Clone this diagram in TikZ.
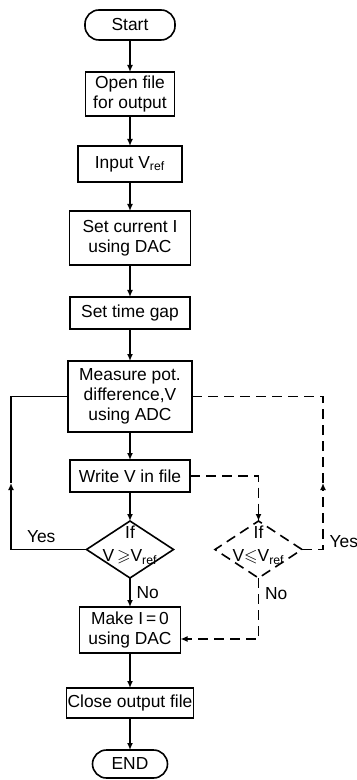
\documentclass[tikz,border=0pt]{standalone}
\usepackage{fontspec}
\setmainfont{Liberation Sans}
\usepackage{amssymb}
\usetikzlibrary{positioning,shapes.geometric,arrows.meta}

\begin{document}
\begin{tikzpicture}[x=0.5pt,y=-0.5pt,thick,>={Latex[length=3.5pt,width=3pt]},
 every node/.style={font=\fontsize{8.7}{10}\selectfont,outer sep=0pt},
 terminal/.style={draw,rectangle,rounded corners=7pt,inner sep=0pt,align=center},
 procbox/.style={draw,rectangle,inner sep=0.5pt,align=center},
 decision/.style={draw,diamond,inner sep=0pt,minimum width=43.5pt,minimum height=28.5pt},
 dectext/.style={align=center,yshift=2pt,font=\fontsize{8.7}{11.5}\selectfont},
 dline/.style={dashed,dash pattern=on 5pt off 3pt}]
 \useasboundingbox (0,0) rectangle (357,780);

 \node[terminal,minimum width=45pt,minimum height=15pt] (start) at (130,25) {Start};
 \node[procbox,minimum width=44.5pt,minimum height=22pt,below=16pt of start] (openf) {Open file\\for output};
 \node[procbox,minimum width=52pt,minimum height=18pt,below=15pt of openf] (inputv) {Input V\textsubscript{ref}};
 \node[procbox,minimum width=60.5pt,minimum height=27pt,below=14.5pt of inputv] (setcur) {Set current I\\using DAC};
 \node[procbox,minimum width=60pt,minimum height=16pt,below=16pt of setcur] (settime) {Set time gap};
 \node[procbox,minimum width=62pt,minimum height=35.5pt,below=16pt of settime] (measure) {Measure pot.\\difference,V\\using ADC};
 \node[procbox,minimum width=60pt,minimum height=16pt,below=14pt of measure] (writev) {Write V in file};

 % the two tests
 \node[decision,below=14.5pt of writev] (ifge) {};
 \node[dectext] (ifgetxt) at (ifge) {If\\V\,$\geqslant$V\textsubscript{ref}};
 \node[decision,dline,right=20.75pt of ifge] (ifle) {};
 \node[dectext] (ifletxt) at (ifle) {If\\V$\leqslant$V\textsubscript{ref}};

 \node[procbox,minimum width=50.5pt,minimum height=23pt,below=14.5pt of ifge] (makezero) {Make I\,=\,0\\using DAC};
 \node[procbox,minimum width=59.5pt,minimum height=15pt,below=17.5pt of makezero] (closef) {Close output file};
 \node[terminal,minimum width=37.5pt,minimum height=14pt,below=16pt of closef] (finish) {END};

 \coordinate (lmid) at (11,483);
 \coordinate (rmid) at (323,483);

 % main line
 \draw[->] (start) -- (openf);
 \draw[->] (openf) -- (inputv);
 \draw[->] (inputv) -- (setcur);
 \draw[->] (setcur) -- (settime);
 \draw[->] (settime) -- (measure);
 \draw[->] (measure) -- (writev);
 \draw[->] (writev) -- (ifge);
 \draw[->] (ifge) -- node[right] (nol) {No} (makezero);
 \draw[->] (makezero) -- (closef);
 \draw[->] (closef) -- (finish);

 % loops back
 \draw[->] (ifge.west) -| node[above,pos=0.3] (yesl) {Yes} (lmid);
 \draw (lmid) |- (measure.west);
 \draw[dline,->] (writev.east) -| (ifle.north);
 \draw[dline,->] (ifle.east) -| node[right,pos=0.5,yshift=4pt] (yesr) {Yes} (rmid);
 \draw[dline] (rmid) |- (measure.east);
 \draw[dline,->] (ifle.south) |- node[right,pos=0.13] (nor) {No} ([yshift=-4.5pt]makezero.east);
\end{tikzpicture}
\end{document}
